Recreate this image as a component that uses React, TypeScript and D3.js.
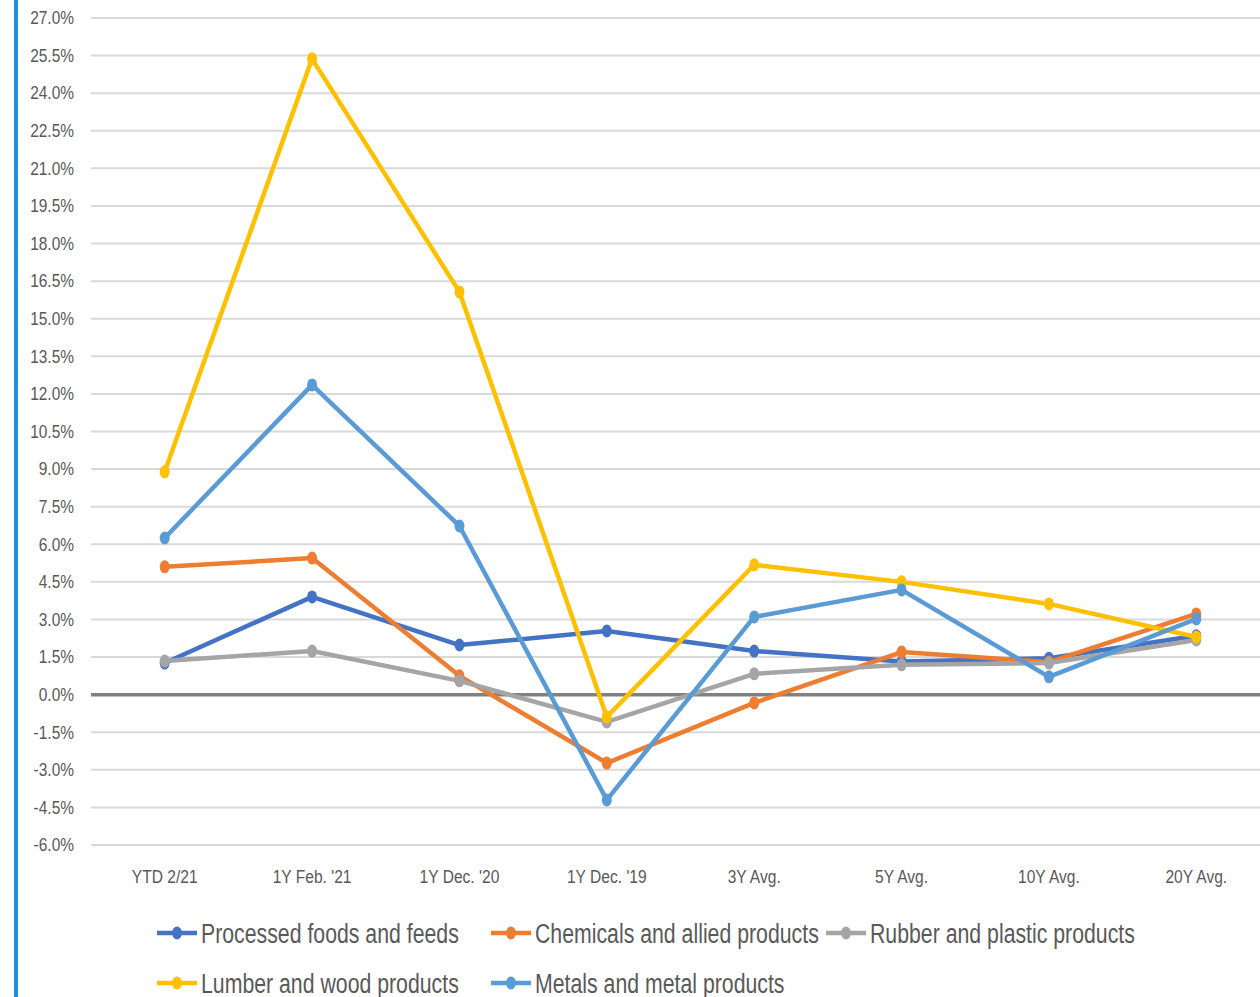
import React from "react";
import * as d3 from "d3";

const categories = ["YTD 2/21", "1Y Feb. '21", "1Y Dec. '20", "1Y Dec. '19", "3Y Avg.", "5Y Avg.", "10Y Avg.", "20Y Avg."];
const yTicks = [27, 25.5, 24, 22.5, 21, 19.5, 18, 16.5, 15, 13.5, 12, 10.5, 9, 7.5, 6, 4.5, 3, 1.5, 0, -1.5, -3, -4.5, -6];

const processedFoods = [1.26, 3.9, 1.98, 2.54, 1.74, 1.32, 1.45, 2.35];
const chemicals = [5.1, 5.45, 0.75, -2.73, -0.33, 1.7, 1.3, 3.22];
const rubber = [1.34, 1.74, 0.55, -1.09, 0.83, 1.19, 1.26, 2.18];
const lumber = [8.89, 25.37, 16.07, -0.89, 5.18, 4.5, 3.62, 2.3];
const metals = [6.25, 12.36, 6.73, -4.2, 3.1, 4.18, 0.71, 3.02];

const seriesNames = ["Processed foods and feeds", "Chemicals and allied products", "Rubber and plastic products", "Lumber and wood products", "Metals and metal products"];
const seriesColors = ["#4472C4", "#ED7D31", "#A5A5A5", "#FFC000", "#5B9BD5"];

const FONT = "'Liberation Sans', Arial, sans-serif";

function NText({ x, y, sx, size, anchor, children }: { x: number; y: number; sx: number; size: number; anchor?: string; children: React.ReactNode }) {
  return (
    <text
      transform={`translate(${x},${y}) scale(${sx},1)`}
      dy="0.35em"
      textAnchor={anchor || "start"}
      fontFamily={FONT}
      fontSize={size}
      fill="#595959"
    >
      {children}
    </text>
  );
}

export default function App() {
  const W = 1260, H = 997;
  const left = 91, right = 1270;
  const y = d3.scaleLinear().domain([-6, 27]).range([845, 18]);
  const x = d3.scalePoint<string>().domain(categories).range([left, right]).padding(0.5);
  const allSeries = [processedFoods, chemicals, rubber, lumber, metals];
  const line = d3.line<number>().x((_, i) => x(categories[i]) as number).y((d) => y(d));

  const legendPos = [
    { lx: 157, ly: 933 },
    { lx: 491, ly: 933 },
    { lx: 826, ly: 933 },
    { lx: 157, ly: 983 },
    { lx: 491, ly: 983 },
  ];

  return (
    <svg width={W} height={H} style={{ position: "absolute", left: 0, top: 0, background: "#fff" }}>
      <rect x={0} y={0} width={W} height={H} fill="#fff" />
      <rect x={14} y={0} width={4} height={H} fill="#1E90E0" />
      {yTicks.map((t) => (
        <g key={t}>
          {t !== 0 && <line x1={left} x2={right} y1={y(t)} y2={y(t)} stroke="#D9D9D9" strokeWidth={2} />}
          <NText x={74} y={y(t)} sx={0.86} size={18} anchor="end">
            {t.toFixed(1) + "%"}
          </NText>
        </g>
      ))}
      <line x1={left} x2={right} y1={y(0)} y2={y(0)} stroke="#808080" strokeWidth={3.5} />
      {categories.map((c) => (
        <NText key={c} x={x(c) as number} y={876} sx={0.82} size={19} anchor="middle">
          {c}
        </NText>
      ))}
      {allSeries.map((s, si) => (
        <g key={si}>
          <path d={line(s) || ""} fill="none" stroke={seriesColors[si]} strokeWidth={4.5} strokeLinejoin="round" />
          {s.map((v, i) => (
            <ellipse key={i} cx={x(categories[i])} cy={y(v)} rx={5} ry={6.5} fill={seriesColors[si]} />
          ))}
        </g>
      ))}
      {seriesNames.map((n, i) => {
        const p = legendPos[i];
        return (
          <g key={n}>
            <line x1={p.lx} x2={p.lx + 40} y1={p.ly} y2={p.ly} stroke={seriesColors[i]} strokeWidth={4.5} />
            <ellipse cx={p.lx + 20} cy={p.ly} rx={5} ry={6.5} fill={seriesColors[i]} />
            <NText x={p.lx + 44} y={p.ly} sx={0.76} size={28}>
              {n}
            </NText>
          </g>
        );
      })}
    </svg>
  );
}
